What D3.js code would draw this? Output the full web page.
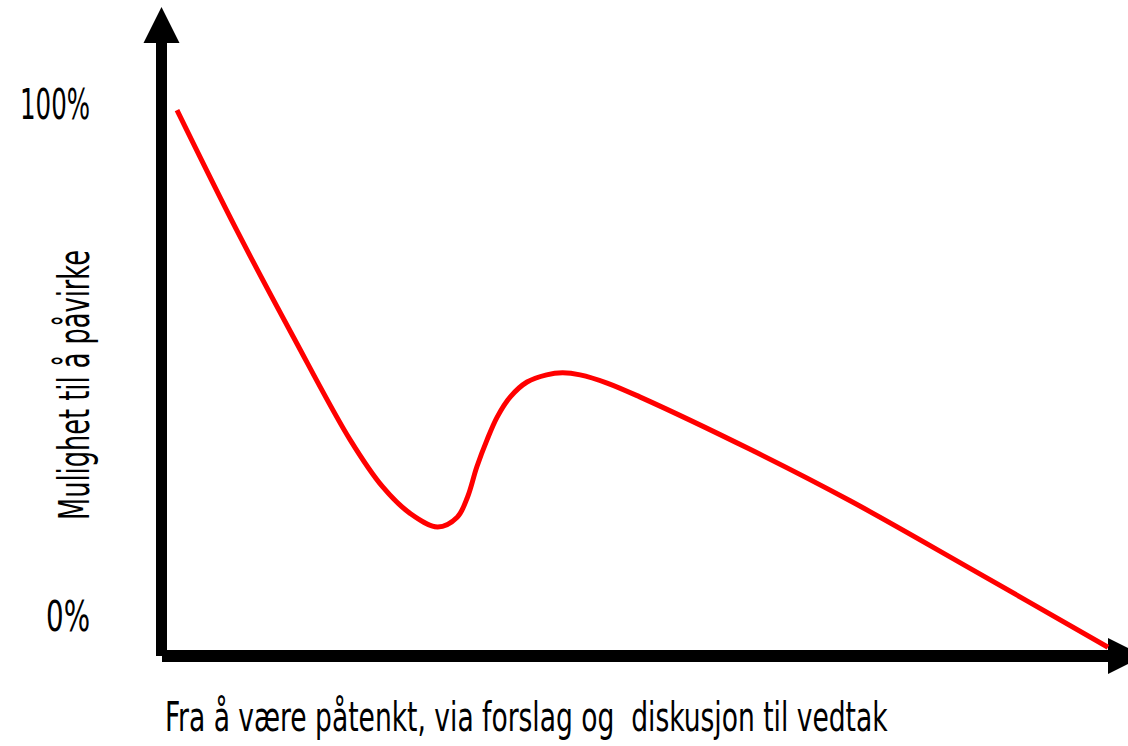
<!DOCTYPE html>
<html>
<head>
<meta charset="utf-8">
<script src="https://cdn.jsdelivr.net/npm/d3@7"></script>
<style>
    html, body { margin: 0; padding: 0; background: #fff; }
    svg { display: block; }
    text { font-family: 'Liberation Sans Narrow', 'DejaVu Sans Condensed', sans-serif; fill: #000; white-space: pre; }
</style>
</head>
<body>
<svg id="chart" width="1128" height="746"></svg>
<script>
// progress through the process (0 = idea, 100 = decision)
const progress = [0, 6.4, 12.5, 18.6, 22.1, 25.0, 28.0, 30.1, 31.2, 32.2, 33.3, 34.4, 35.8, 37.6, 39.7, 41.4, 43.3, 46.2, 49.7, 61.5, 72.3, 84.9, 100];
// possibility to influence, in %
const influence = [98.8, 75.4, 54.5, 34.4, 25.2, 20.1, 17.4, 19.3, 23.2, 29.1, 34.4, 38.9, 42.8, 45.7, 47.1, 47.5, 47.1, 45.5, 42.8, 32.6, 22.5, 9.6, -6.1];
const tickValues = [0, 100];
const tickLabels = ['0%', '100%'];
const yTitle = 'Mulighet til å påvirke';
const xTitle = 'Fra å være påtenkt, via forslag og  diskusjon til vedtak';

const svg = d3.select('#chart');

const xScale = d3.scaleLinear().domain([0, 100]).range([177, 1108]);
const yScale = d3.scaleLinear().domain([0, 100]).range([616, 104]);

// squeeze a text horizontally so it spans the wanted width (condensed look)
function squeeze(sel, x, y, w, rotate) {
    const len = sel.node().getComputedTextLength();
    const sx = w / len;
    sel.attr('transform', `translate(${x},${y})${rotate ? ' rotate(-90)' : ''} scale(${sx},1)`);
}

// axes with arrow heads
const axisX0 = 161.5;
const axisY0 = 656;
const axes = svg.append('g').attr('id', 'axes');
axes.append('rect')
    .attr('x', axisX0 - 5.5).attr('y', 40)
    .attr('width', 11).attr('height', axisY0 - 40);
axes.append('path')
    .attr('d', `M${axisX0},7 L${axisX0 + 18},43 L${axisX0 - 18},43 Z`);
axes.append('rect')
    .attr('x', 162).attr('y', axisY0 - 6)
    .attr('width', 1110 - 162).attr('height', 12);
axes.append('path')
    .attr('d', `M1108,638 L1144,${axisY0} L1108,674 Z`);

// tick labels
svg.append('g')
    .selectAll('text')
    .data(tickValues)
    .join('text')
    .attr('text-anchor', 'end')
    .attr('font-size', 42)
    .text((d, i) => tickLabels[i])
    .each(function (d, i) {
        squeeze(d3.select(this), 90, yScale(d) + 15, tickLabels[i].length === 4 ? 70 : 44);
    });

// titles
const yLab = svg.append('text')
    .attr('text-anchor', 'middle')
    .attr('font-size', 43)
    .text(yTitle);
squeeze(yLab, 89, 385, 270, true);

const xLab = svg.append('text')
    .attr('font-size', 40)
    .text(xTitle);
squeeze(xLab, 165, 731, 723);

// curve
const line = d3.line()
    .x((d, i) => xScale(progress[i]))
    .y((d) => yScale(d))
    .curve(d3.curveCatmullRom.alpha(0.5));

svg.append('path')
    .attr('d', line(influence))
    .attr('fill', 'none')
    .attr('stroke', '#ff0000')
    .attr('stroke-width', 5);
</script>
</body>
</html>
